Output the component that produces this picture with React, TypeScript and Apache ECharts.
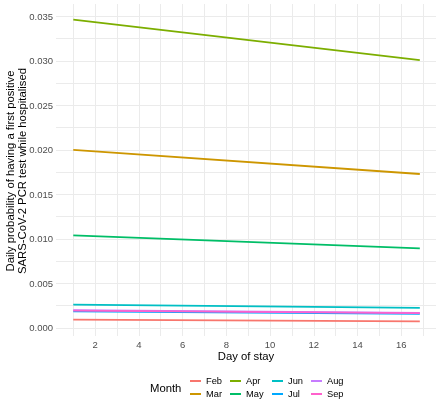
import React, { useEffect, useRef } from "react";
import * as echarts from "echarts";

const days = [1, 16.85];
const months = ["Feb", "Mar", "Apr", "May", "Jun", "Jul", "Aug", "Sep"];
const colors = ["#F8766D", "#CD9600", "#7CAE00", "#00BE67", "#00BFC4", "#00A9FF", "#C77CFF", "#FF61CC"];
const febValues = [0.00093, 0.00075];
const marValues = [0.0200, 0.0173];
const aprValues = [0.03465, 0.0301];
const mayValues = [0.01040, 0.00894];
const junValues = [0.00262, 0.00225];
const julValues = [0.00188, 0.00160];
const augValues = [0.00200, 0.00170];
const sepValues = [0.00196, 0.00167];
const seriesValues = [febValues, marValues, aprValues, mayValues, junValues, julValues, augValues, sepValues];
const xTickLabels = [2, 4, 6, 8, 10, 12, 14, 16];
const xGrid = [1, 2, 3, 4, 5, 6, 7, 8, 9, 10, 11, 12, 13, 14, 15, 16, 17];
const yTickLabels = [0, 0.005, 0.01, 0.015, 0.02, 0.025, 0.03, 0.035];
const yGrid = [0, 0.0025, 0.005, 0.0075, 0.01, 0.0125, 0.015, 0.0175, 0.02, 0.0225, 0.025, 0.0275, 0.03, 0.0325, 0.035];

const FONT = "'Liberation Sans', Arial, sans-serif";

export default function App() {
  const ref = useRef<HTMLDivElement>(null);
  useEffect(() => {
    if (!ref.current) return;
    const chart = echarts.init(ref.current, null, { renderer: "svg" });
    const legendCols = [
      { items: ["Feb", "Mar"], left: 190 },
      { items: ["Apr", "May"], left: 230 },
      { items: ["Jun", "Jul"], left: 272 },
      { items: ["Aug", "Sep"], left: 311 },
    ];
    chart.setOption({
      animation: false,
      color: colors,
      textStyle: { fontFamily: FONT },
      grid: { left: 56, right: 4, top: 4, bottom: 68, containLabel: false },
      xAxis: {
        type: "value",
        min: 0.21,
        max: 17.59,
        axisLine: { show: false },
        axisTick: { show: false, customValues: xGrid },
        axisLabel: {
          customValues: xTickLabels,
          color: "#4D4D4D",
          fontSize: 9.5,
          margin: 3,
          fontFamily: FONT,
        },
        splitLine: { show: true, lineStyle: { color: "#EBEBEB", width: 1 } },
      },
      yAxis: {
        type: "value",
        min: -0.0009,
        max: 0.0364,
        axisLine: { show: false },
        axisTick: { show: false, customValues: yGrid },
        axisLabel: {
          customValues: yTickLabels,
          color: "#4D4D4D",
          fontSize: 9.5,
          margin: 3,
          fontFamily: FONT,
          formatter: (v: number) => v.toFixed(3),
        },
        splitLine: { show: true, lineStyle: { color: "#EBEBEB", width: 1 } },
      },
      legend: legendCols.map((c) => ({
        data: c.items,
        orient: "vertical",
        left: c.left,
        top: 374.5,
        padding: 0,
        itemGap: 0,
        itemWidth: 11,
        itemHeight: 2,
        icon: "rect",
        selectedMode: false,
        textStyle: { fontSize: 9.3, lineHeight: 13, color: "#000", fontFamily: FONT },
      })),
      graphic: [
        {
          type: "text",
          x: 16,
          y: 171,
          rotation: Math.PI / 2,
          style: {
            text: "Daily probability of having a first positive\nSARS-CoV-2 PCR test while hospitalised",
            align: "center",
            verticalAlign: "middle",
            fontSize: 11.3,
            lineHeight: 11.5,
            fill: "#000",
            fontFamily: FONT,
          },
        },
        {
          type: "text",
          x: 246,
          y: 356,
          style: {
            text: "Day of stay",
            align: "center",
            verticalAlign: "middle",
            fontSize: 11.3,
            fill: "#000",
            fontFamily: FONT,
          },
        },
        {
          type: "text",
          x: 150,
          y: 388,
          style: {
            text: "Month",
            align: "left",
            verticalAlign: "middle",
            fontSize: 11.3,
            fill: "#000",
            fontFamily: FONT,
          },
        },
      ],
      series: months.map((m, i) => ({
        name: m,
        type: "line",
        showSymbol: false,
        symbol: "none",
        lineStyle: { width: 1.8, color: colors[i] },
        itemStyle: { color: colors[i] },
        data: days.map((d, j) => [d, seriesValues[i][j]]),
      })),
    });
    return () => chart.dispose();
  }, []);
  return <div ref={ref} style={{ position: "fixed", left: 0, top: 0, width: 440, height: 404 }} />;
}
